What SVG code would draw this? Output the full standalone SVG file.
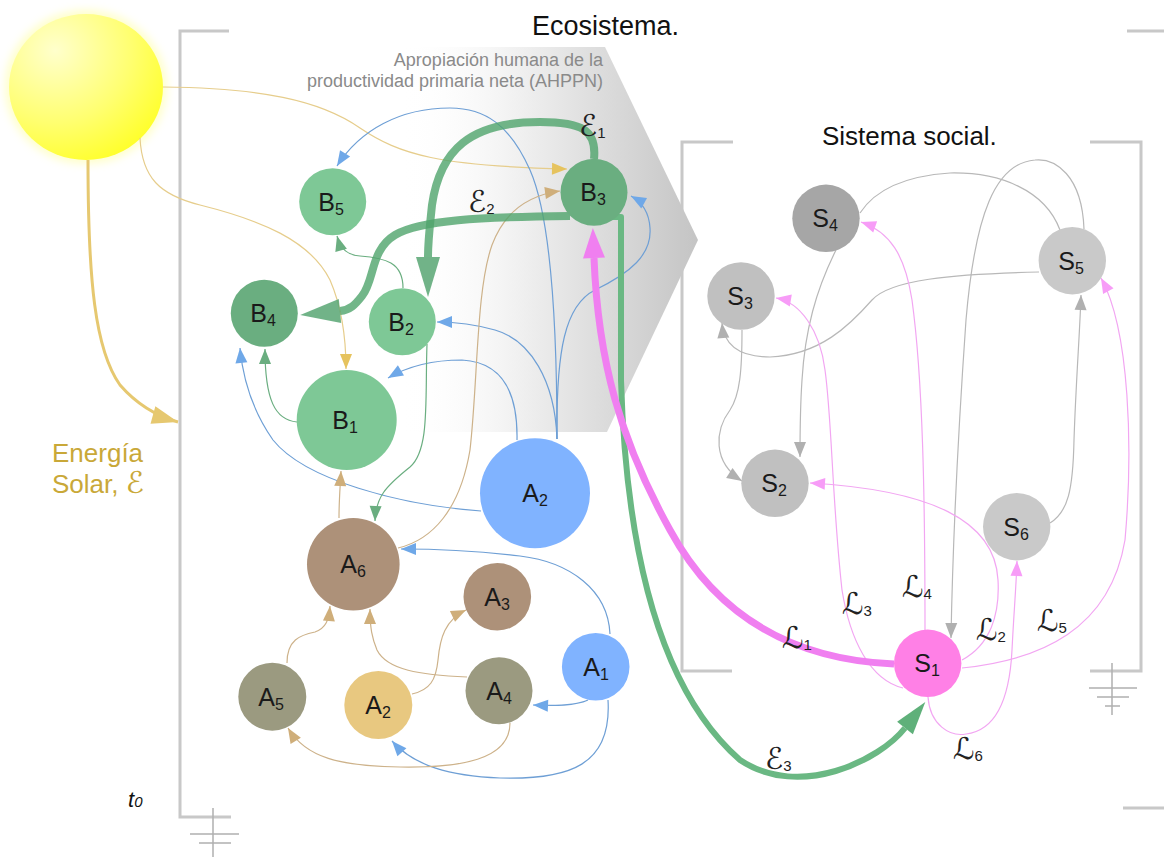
<svg xmlns="http://www.w3.org/2000/svg" width="1164" height="859" viewBox="0 0 1164 859">
  <defs>
    <style>
      .lbl{font-family:"Liberation Sans",Arial,sans-serif;font-size:25px;fill:#1a1a1a;text-anchor:middle}
      .sub{font-size:16px}
      .flow{font-family:"DejaVu Sans",sans-serif;font-size:30px;fill:#222}
      .fsub{font-family:"Liberation Sans",Arial,sans-serif;font-size:15px}
      .c{fill:none;stroke-width:1.2}
      .bl{stroke:#6e9fd5}
      .gr{stroke:#6aae80}
      .tn{stroke:#cdb28a}
      .gd{stroke:#e6cd8c}
      .gy{stroke:#b8b8b8}
      .pk{stroke:#f2a6f2}
      .frame{fill:none;stroke:#c8c8c8;stroke-width:3}
      .ground{stroke:#b0b0b0;stroke-width:1.5;fill:none}
      .gL{fill:#7ec896}
      .gD{fill:#6aae80}
      .blu{fill:#80b3ff}
      .brn{fill:#ad9179}
      .olv{fill:#9b9a80}
      .yel{fill:#e8c880}
      .sDk{fill:#a6a6a6}
      .sMd{fill:#c0c0c0}
      .sLt{fill:#c9c9c9}
      .sPk{fill:#ff80e6}
    </style>
    <radialGradient id="sunFill" cx="0.3" cy="0.25" r="0.9">
      <stop offset="0" stop-color="#ffffcc"/>
      <stop offset="0.55" stop-color="#ffff70"/>
      <stop offset="1" stop-color="#ffff1a"/>
    </radialGradient>
    <filter id="glow" x="-20%" y="-20%" width="140%" height="140%">
      <feGaussianBlur stdDeviation="4"/>
    </filter>
    <linearGradient id="shade" gradientUnits="userSpaceOnUse" x1="400" y1="0" x2="700" y2="0">
      <stop offset="0" stop-color="#ffffff" stop-opacity="0"/>
      <stop offset="0.4" stop-color="#f0f0f0"/>
      <stop offset="1" stop-color="#c4c4c4"/>
    </linearGradient>
    <!-- thin arrowheads, tip at path end -->
    <marker id="aBl" viewBox="-15 -7 16 14" refX="0" refY="0" markerWidth="16" markerHeight="14" markerUnits="userSpaceOnUse" orient="auto" overflow="visible"><path d="M-15,-6 L0,0 L-15,6 z" fill="#6fa8e8"/></marker>
    <marker id="aGr" viewBox="-15 -7 16 14" refX="0" refY="0" markerWidth="16" markerHeight="14" markerUnits="userSpaceOnUse" orient="auto" overflow="visible"><path d="M-15,-6 L0,0 L-15,6 z" fill="#6aae80"/></marker>
    <marker id="aTn" viewBox="-15 -7 16 14" refX="0" refY="0" markerWidth="16" markerHeight="14" markerUnits="userSpaceOnUse" orient="auto" overflow="visible"><path d="M-15,-6 L0,0 L-15,6 z" fill="#cfae7a"/></marker>
    <marker id="aGd" viewBox="-15 -7 16 14" refX="0" refY="0" markerWidth="16" markerHeight="14" markerUnits="userSpaceOnUse" orient="auto" overflow="visible"><path d="M-15,-6 L0,0 L-15,6 z" fill="#e6c35e"/></marker>
    <marker id="aGy" viewBox="-15 -7 16 14" refX="0" refY="0" markerWidth="16" markerHeight="14" markerUnits="userSpaceOnUse" orient="auto" overflow="visible"><path d="M-15,-6 L0,0 L-15,6 z" fill="#b0b0b0"/></marker>
    <marker id="aPk" viewBox="-15 -7 16 14" refX="0" refY="0" markerWidth="16" markerHeight="14" markerUnits="userSpaceOnUse" orient="auto" overflow="visible"><path d="M-15,-6 L0,0 L-15,6 z" fill="#f79cf7"/></marker>
    <!-- heavy arrowheads -->
    <marker id="hSun" viewBox="-26 -10 27 20" refX="0" refY="0" markerWidth="27" markerHeight="20" markerUnits="userSpaceOnUse" orient="auto" overflow="visible"><path d="M-26,-9 L0,0 L-26,9 z" fill="#e6c870"/></marker>
    <marker id="hE12" viewBox="0 -12 41 24" refX="0" refY="0" markerWidth="41" markerHeight="24" markerUnits="userSpaceOnUse" orient="auto" overflow="visible"><path d="M0,-12 L40,0 L0,12 z" fill="#58a673" fill-opacity="0.85"/></marker>
    <marker id="hE3" viewBox="0 -11 34 22" refX="0" refY="0" markerWidth="34" markerHeight="22" markerUnits="userSpaceOnUse" orient="auto" overflow="visible"><path d="M0,-10 L33,0 L0,10 z" fill="#5fb07a"/></marker>
    <marker id="hL1" viewBox="0 -12 31 24" refX="0" refY="0" markerWidth="31" markerHeight="24" markerUnits="userSpaceOnUse" orient="auto" overflow="visible"><path d="M0,-11 L30,0 L0,11 z" fill="#f07ff0"/></marker>
  </defs>

  <rect width="1164" height="859" fill="#ffffff"/>

  <!-- human appropriation of net primary productivity: shaded wedge -->
  <polygon points="360,47 605,47 698,240 607,432 470,432 360,432" fill="url(#shade)"/>

  <!-- sun -->
  <g id="sun">
    <ellipse cx="86" cy="87" rx="81" ry="77" fill="#ffffa8" opacity="0.6" filter="url(#glow)"/>
    <ellipse cx="86" cy="87" rx="77" ry="73" fill="url(#sunFill)"/>
  </g>

  <!-- system frames -->
  <g id="frames">
    <polyline class="frame" points="229,31 180,31 180,817 231,817"/>
    <line class="frame" x1="1127" y1="31" x2="1164" y2="31"/>
    <line class="frame" x1="1123" y1="808" x2="1164" y2="808"/>
    <polyline class="frame" points="733,142 682,142 682,671 732,671"/>
    <polyline class="frame" points="1090,142 1141,142 1141,671 1090,671"/>
    <path class="ground" d="M213,808 V857 M190,834 H239 M199,843 H231"/>
    <path class="ground" d="M1112,663 V715 M1089,688 H1137 M1097,697 H1129 M1105,706 H1120"/>
  </g>

  <!-- titles and notes -->
  <g id="titles" font-family="'Liberation Sans',Arial,sans-serif">
    <text x="532" y="35" font-size="27" fill="#111">Ecosistema.</text>
    <text x="822" y="145" font-size="26" fill="#111">Sistema social.</text>
    <text x="603" y="66" font-size="18" fill="#8a8a8a" text-anchor="end">Apropiación humana de la</text>
    <text x="603" y="87" font-size="18" fill="#8a8a8a" text-anchor="end">productividad primaria neta (AHPPN)</text>
    <text x="52" y="462" font-size="26" fill="#c9a838">Energía</text>
    <text x="52" y="493" font-size="26" fill="#c9a838">Solar, <tspan font-family="'DejaVu Sans',sans-serif" font-size="30">ℰ</tspan></text>
    <text x="128" y="807" font-size="22" font-style="italic" fill="#111">t<tspan font-size="15">0</tspan></text>
  </g>

  <!-- connectors -->
  <g id="connectors">
    <!-- solar input -->
    <path d="M88,160 C88,280 95,350 120,385 C140,408 160,417 178,422" fill="none" stroke="#e6c870" stroke-width="3" marker-end="url(#hSun)"/>
    <path class="c gd" d="M163,87 C260,88 320,100 360,128 C400,155 440,166 567,169" marker-end="url(#aGd)"/>
    <path class="c gd" d="M140,138 C142,178 160,195 200,205 C260,220 310,240 330,280 C343,310 346,340 346,369" marker-end="url(#aGd)"/>

    <!-- blue -->
    <path class="c bl" d="M557,439 C557,330 552,220 530,170 C510,125 485,108 450,108 C400,108 360,130 337,166" marker-end="url(#aBl)"/>
    <path class="c bl" d="M557,439 C556,350 565,305 595,290 C630,273 652,255 650,228 C649,212 642,202 631,196" marker-end="url(#aBl)"/>
    <path class="c bl" d="M557,439 C555,380 530,340 495,330 C470,323 452,322 437,322" marker-end="url(#aBl)"/>
    <path class="c bl" d="M517,440 C518,390 500,362 462,360 C430,360 405,368 388,378" marker-end="url(#aBl)"/>
    <path class="c bl" d="M481,511 C400,505 305,480 273,440 C252,410 243,380 240,348" marker-end="url(#aBl)"/>
    <path class="c bl" d="M610,634 C608,590 570,562 520,556 C470,550 432,549 401,549" marker-end="url(#aBl)"/>
    <path class="c bl" d="M588,700 C575,706 555,706 533,705" marker-end="url(#aBl)"/>
    <path class="c bl" d="M608,700 C612,765 570,780 500,778 C450,776 414,766 392,741" marker-end="url(#aBl)"/>

    <!-- green -->
    <path class="c gr" d="M297,422 C275,420 265,400 265,349" marker-end="url(#aGr)"/>
    <path class="c gr" d="M403,288 C403,262 385,258 360,256 C348,255 341,250 337,236" marker-end="url(#aGr)"/>
    <path class="c gr" d="M427,344 C425,400 430,450 410,467 C385,487 376,497 375,521" marker-end="url(#aGr)"/>

    <!-- tan -->
    <path class="c tn" d="M339,518 C339,500 340,490 341,471" marker-end="url(#aTn)"/>
    <path class="c tn" d="M287,663 C287,640 300,635 315,632 C326,628 329,620 330,606" marker-end="url(#aTn)"/>
    <path class="c tn" d="M467,677 C420,675 387,670 377,650 C372,638 370,628 370,609" marker-end="url(#aTn)"/>
    <path class="c tn" d="M412,694 C430,690 436,680 438,660 C440,638 445,620 466,610" marker-end="url(#aTn)"/>
    <path class="c tn" d="M510,723 C510,760 460,768 400,767 C340,766 306,758 288,728" marker-end="url(#aTn)"/>
    <path class="c tn" d="M398,548 C432,540 460,510 470,450 C478,380 476,290 492,245 C505,210 530,195 560,191" marker-end="url(#aTn)"/>

    <!-- social grey -->
    <path class="c gy" d="M860,213 C875,190 905,176 950,173 C1000,172 1045,190 1060,230"/>
    <path class="c gy" d="M1084,229 C1082,175 1055,158 1035,160 C995,163 975,215 966,320 C959,420 953,530 951,638" marker-end="url(#aGy)"/>
    <path class="c gy" d="M836,250 C816,290 805,330 802,380 C800,410 800,430 800,457" marker-end="url(#aGy)"/>
    <path class="c gy" d="M1039,272 C950,274 890,280 872,300 C850,325 820,355 770,357 C740,357 724,345 722,323" marker-end="url(#aGy)"/>
    <path class="c gy" d="M742,330 C742,370 740,395 730,410 C715,430 712,462 742,481" marker-end="url(#aGy)"/>
    <path class="c gy" d="M1050,523 C1068,512 1073,490 1074,440 C1076,380 1080,330 1081,295" marker-end="url(#aGy)"/>

    <!-- social pink -->
    <path class="c pk" d="M903,688 C870,680 850,640 842,590 C832,500 832,420 825,370 C820,330 800,302 776,298" marker-end="url(#aPk)"/>
    <path class="c pk" d="M925,630 C925,500 923,380 912,300 C905,255 890,232 861,222" marker-end="url(#aPk)"/>
    <path class="c pk" d="M962,660 C990,645 1000,615 998,580 C995,520 930,490 810,483" marker-end="url(#aPk)"/>
    <path class="c pk" d="M962,668 C1040,660 1110,630 1125,540 C1133,450 1130,330 1101,278" marker-end="url(#aPk)"/>
    <path class="c pk" d="M928,697 C930,725 950,737 966,734 C1000,730 1010,690 1012,650 C1014,610 1016,590 1017,561" marker-end="url(#aPk)"/>

    <!-- energy and labour flows -->
    <path d="M594,159 C597,130 582,122 540,122 C470,122 440,150 432,205 C430,225 428,240 428,257" fill="none" stroke="#4fa46c" stroke-opacity="0.8" stroke-width="8" marker-end="url(#hE12)"/>
    <path d="M570,216 C480,217 420,220 395,235 C370,250 375,280 362,296 C355,305 350,310 340,311" fill="none" stroke="#4fa46c" stroke-opacity="0.8" stroke-width="8" marker-end="url(#hE12)"/>
    <path d="M608,217 H621 V380 C626,550 660,690 740,760 C800,800 880,760 905,728" fill="none" stroke="#6ab883" stroke-width="6" stroke-linejoin="round" marker-end="url(#hE3)"/>
    <path d="M894,664 C800,660 720,622 670,530 C620,440 598,360 594,258" fill="none" stroke="#f07ff0" stroke-width="7" marker-end="url(#hL1)"/>

    <!-- flow labels -->
    <text class="flow" x="579" y="136">ℰ<tspan class="fsub" dy="2">1</tspan></text>
    <text class="flow" x="468" y="212">ℰ<tspan class="fsub" dy="2">2</tspan></text>
    <text class="flow" x="765" y="769">ℰ<tspan class="fsub" dy="2">3</tspan></text>
    <text class="flow" x="782" y="648">ℒ<tspan class="fsub" dy="2">1</tspan></text>
    <text class="flow" x="976" y="640">ℒ<tspan class="fsub" dy="2">2</tspan></text>
    <text class="flow" x="842" y="614">ℒ<tspan class="fsub" dy="2">3</tspan></text>
    <text class="flow" x="902" y="597">ℒ<tspan class="fsub" dy="2">4</tspan></text>
    <text class="flow" x="1037" y="631">ℒ<tspan class="fsub" dy="2">5</tspan></text>
    <text class="flow" x="953" y="759">ℒ<tspan class="fsub" dy="2">6</tspan></text>
  </g>

  <!-- ecosystem nodes -->
  <g id="B5"><circle class="gL" cx="332.7" cy="201.7" r="33.5"/><text class="lbl" x="331" y="210.5">B<tspan class="sub" dy="4">5</tspan></text></g>
  <g id="B3"><circle class="gD" cx="594" cy="192.3" r="33.5"/><text class="lbl" x="593" y="201">B<tspan class="sub" dy="4">3</tspan></text></g>
  <g id="B4"><circle class="gD" cx="264.3" cy="313.3" r="33.5"/><text class="lbl" x="263" y="322">B<tspan class="sub" dy="4">4</tspan></text></g>
  <g id="B2"><circle class="gL" cx="402.3" cy="321.7" r="33.5"/><text class="lbl" x="401" y="330.5">B<tspan class="sub" dy="4">2</tspan></text></g>
  <g id="B1"><circle class="gL" cx="346.7" cy="420" r="50"/><text class="lbl" x="345" y="429">B<tspan class="sub" dy="4">1</tspan></text></g>
  <g id="A2-big"><circle class="blu" cx="535" cy="493.3" r="55"/><text class="lbl" x="535" y="502">A<tspan class="sub" dy="4">2</tspan></text></g>
  <g id="A6"><circle class="brn" cx="353.3" cy="564.3" r="46.3"/><text class="lbl" x="353" y="573">A<tspan class="sub" dy="4">6</tspan></text></g>
  <g id="A3"><circle class="brn" cx="497.3" cy="596.7" r="33.8"/><text class="lbl" x="497" y="605.5">A<tspan class="sub" dy="4">3</tspan></text></g>
  <g id="A1"><circle class="blu" cx="595.7" cy="666.7" r="33.8"/><text class="lbl" x="596" y="675.5">A<tspan class="sub" dy="4">1</tspan></text></g>
  <g id="A4"><circle class="olv" cx="499" cy="690.7" r="33.5"/><text class="lbl" x="499" y="699.5">A<tspan class="sub" dy="4">4</tspan></text></g>
  <g id="A2-small"><circle class="yel" cx="378.3" cy="705" r="34"/><text class="lbl" x="378" y="714">A<tspan class="sub" dy="4">2</tspan></text></g>
  <g id="A5"><circle class="olv" cx="272.3" cy="696.7" r="34"/><text class="lbl" x="271" y="705.5">A<tspan class="sub" dy="4">5</tspan></text></g>

  <!-- social system nodes -->
  <g id="S4"><circle class="sDk" cx="826" cy="218.3" r="33.7"/><text class="lbl" x="825" y="227">S<tspan class="sub" dy="4">4</tspan></text></g>
  <g id="S5"><circle class="sLt" cx="1072.3" cy="260.7" r="33.7"/><text class="lbl" x="1071" y="269.5">S<tspan class="sub" dy="4">5</tspan></text></g>
  <g id="S3"><circle class="sMd" cx="741" cy="296" r="33.7"/><text class="lbl" x="740" y="305">S<tspan class="sub" dy="4">3</tspan></text></g>
  <g id="S2"><circle class="sMd" cx="775" cy="483.3" r="33.7"/><text class="lbl" x="774" y="492">S<tspan class="sub" dy="4">2</tspan></text></g>
  <g id="S6"><circle class="sLt" cx="1016.7" cy="526.7" r="33.7"/><text class="lbl" x="1016" y="535.5">S<tspan class="sub" dy="4">6</tspan></text></g>
  <g id="S1"><circle class="sPk" cx="927.7" cy="663.3" r="33.7"/><text class="lbl" x="927" y="672">S<tspan class="sub" dy="4">1</tspan></text></g>
</svg>
